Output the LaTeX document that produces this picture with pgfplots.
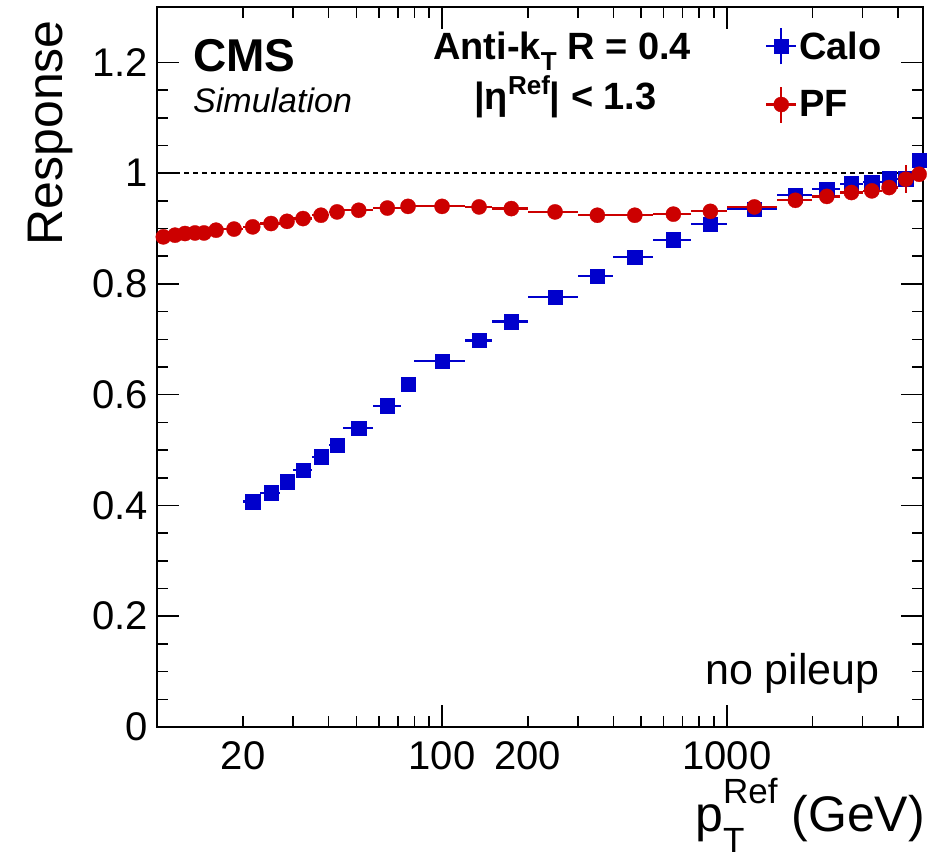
\documentclass[border=0pt]{standalone}
\usepackage{pgfplots}
\pgfplotsset{compat=1.18}
\usepackage{pgfplotstable}
\usepackage{fontspec}
\setmainfont{Liberation Sans}
\definecolor{calo}{RGB}{0,0,204}
\definecolor{pf}{RGB}{204,0,0}

% x  y  x-error-minus  x-error-plus  y-error
\pgfplotstableread{
x y exm exp ey
10.50 0.885 0.50 0.50 0.002
11.54 0.888 0.54 0.46 0.002
12.51 0.891 0.51 0.49 0.002
13.56 0.892 0.56 0.44 0.002
14.59 0.892 0.59 0.41 0.002
16.08 0.897 1.08 0.92 0.002
18.60 0.899 1.60 1.40 0.002
21.63 0.903 1.63 1.37 0.002
25.08 0.909 2.08 1.92 0.002
28.55 0.913 1.55 1.45 0.002
32.50 0.918 2.50 2.50 0.002
37.58 0.924 2.58 2.42 0.002
42.78 0.930 2.78 2.22 0.002
50.98 0.933 5.98 6.02 0.002
64.26 0.937 7.26 7.74 0.002
75.96 0.940 3.96 4.04 0.002
100.0 0.940 20.0 20.0 0.002
134.9 0.939 14.9 15.1 0.002
175.1 0.936 25.1 24.9 0.002
249.4 0.930 49.4 50.6 0.002
351.2 0.924 51.2 48.8 0.002
475.3 0.924 75.3 74.7 0.002
649.4 0.926 99.4 100.6 0.002
875.9 0.931 125.9 124.1 0.003
1250 0.939 250 250 0.003
1742 0.951 242 258 0.003
2245 0.958 245 255 0.004
2740 0.965 240 260 0.005
3231 0.968 231 269 0.006
3716 0.974 216 284 0.010
4253 0.989 253 247 0.025
4737 0.998 237 263 0.010
}\pfdata

\pgfplotstableread{
x y exm exp ey
21.63 0.407 1.63 1.37 0.002
25.08 0.423 2.08 1.92 0.002
28.55 0.443 1.55 1.45 0.002
32.50 0.464 2.50 2.50 0.002
37.58 0.488 2.58 2.42 0.002
42.78 0.509 2.78 2.22 0.002
50.98 0.540 5.98 6.02 0.002
64.26 0.580 7.26 7.74 0.002
75.96 0.619 3.96 4.04 0.002
100.0 0.661 20.0 20.0 0.002
134.9 0.698 14.9 15.1 0.002
175.1 0.732 25.1 24.9 0.002
249.4 0.776 49.4 50.6 0.002
351.2 0.814 51.2 48.8 0.002
475.3 0.848 75.3 74.7 0.002
649.4 0.880 99.4 100.6 0.002
875.9 0.908 125.9 124.1 0.002
1250 0.935 250 250 0.003
1742 0.960 242 258 0.003
2245 0.971 245 255 0.004
2740 0.981 240 260 0.005
3231 0.984 231 269 0.006
3716 0.990 216 284 0.008
4253 0.990 253 247 0.010
4737 1.024 237 263 0.010
}\calodata

\begin{document}
\begin{tikzpicture}
\path[use as bounding box] (0,0) rectangle (930bp,863bp);
\begin{axis}[
  at={(157.3bp,136bp)}, anchor=south west,
  scale only axis, width=766bp, height=720bp,
  xmode=log, xmin=10, xmax=4900, ymin=0, ymax=1.3,
  xtick={100,1000}, xticklabels={100,1000},
  extra x ticks={20,200}, extra x tick labels={20,200},
  extra x tick style={major tick length=11bp},
  minor xtick={20,30,40,50,60,70,80,90,200,300,400,500,600,700,800,900,2000,3000,4000},
  ytick={0,0.2,0.4,0.6,0.8,1,1.2}, minor y tick num=3,
  /pgf/number format/assume math mode=true,
  tick label style={font=\fontsize{40bp}{48bp}\selectfont, inner sep=0pt},
  xticklabel shift=14bp, yticklabel shift=9bp,
  tick align=inside,
  major tick length=22bp, minor tick length=11bp,
  every tick/.style={black, line width=1.5bp},
  axis line style={line width=1.8bp},
  legend style={draw=none, fill=none, inner sep=0pt,
    at={(0.7933,0.9722)}, anchor=north west,
    font=\fontsize{38bp}{44bp}\selectfont\bfseries,
    row sep=20bp, nodes={inner sep=2bp}},
  legend cell align=left,
]
\addplot[black, dash pattern=on 5bp off 4bp, line width=1.3bp, forget plot] coordinates {(10,1) (4900,1)};
\addplot[calo, only marks, mark=square*, mark size=7.2bp, mark options={solid, line width=0.3bp},
  legend image code/.code={
    \draw[calo, line width=2.2bp] (-15bp,0bp) -- (15bp,0bp) (0bp,-18bp) -- (0bp,18bp);
    \draw[calo, mark=square*, mark size=7.2bp, only marks] plot coordinates {(0bp,0bp)};
  },
  error bars/.cd, x dir=both, x explicit, y dir=both, y explicit, error mark=none,
  error bar style={line width=2.2bp, calo}]
  table[x=x, y=y, x error minus=exm, x error plus=exp, y error=ey] {\calodata};
\addlegendentry{Calo}
\addplot[pf, only marks, mark=*, mark size=7.6bp, mark options={solid, line width=0.3bp},
  legend image code/.code={
    \draw[pf, line width=2.2bp] (-15bp,0bp) -- (15bp,0bp) (0bp,-18bp) -- (0bp,18bp);
    \draw[pf, mark=*, mark size=7.6bp, only marks] plot coordinates {(0bp,0bp)};
  },
  error bars/.cd, x dir=both, x explicit, y dir=both, y explicit, error mark=none,
  error bar style={line width=2.2bp, pf}]
  table[x=x, y=y, x error minus=exm, x error plus=exp, y error=ey] {\pfdata};
\addlegendentry{PF}
\end{axis}
\node[anchor=base west, inner sep=0pt, font=\fontsize{46bp}{52bp}\selectfont\bfseries] at (193bp,791bp) {CMS};
\node[anchor=base west, inner sep=0pt, font=\fontsize{34bp}{40bp}\selectfont\itshape] at (193bp,750bp) {Simulation};
\node[anchor=base west, inner sep=0pt, font=\fontsize{38bp}{44bp}\selectfont\bfseries] at (433bp,803bp)
  {Anti-k\raisebox{-0.28em}{\fontsize{26bp}{30bp}\selectfont T} R = 0.4};
\node[anchor=base west, inner sep=0pt, font=\fontsize{38bp}{44bp}\selectfont\bfseries] at (474bp,753bp)
  {|η\raisebox{0.42em}{\fontsize{26bp}{30bp}\selectfont Ref}| < 1.3};
\node[anchor=base east, inner sep=0pt, font=\fontsize{43bp}{48bp}\selectfont] at (880bp,178bp) {no pileup};
\node[anchor=base east, inner sep=0pt, font=\fontsize{50bp}{56bp}\selectfont] at (925bp,32bp)
  {p\makebox[0pt][l]{\raisebox{-0.42em}{\fontsize{35bp}{40bp}\selectfont T}}\raisebox{0.55em}{\fontsize{35bp}{40bp}\selectfont Ref} (GeV)};
\node[anchor=base east, rotate=90, inner sep=0pt, font=\fontsize{50bp}{56bp}\selectfont] at (62bp,843bp) {Response};
\end{tikzpicture}
\end{document}
